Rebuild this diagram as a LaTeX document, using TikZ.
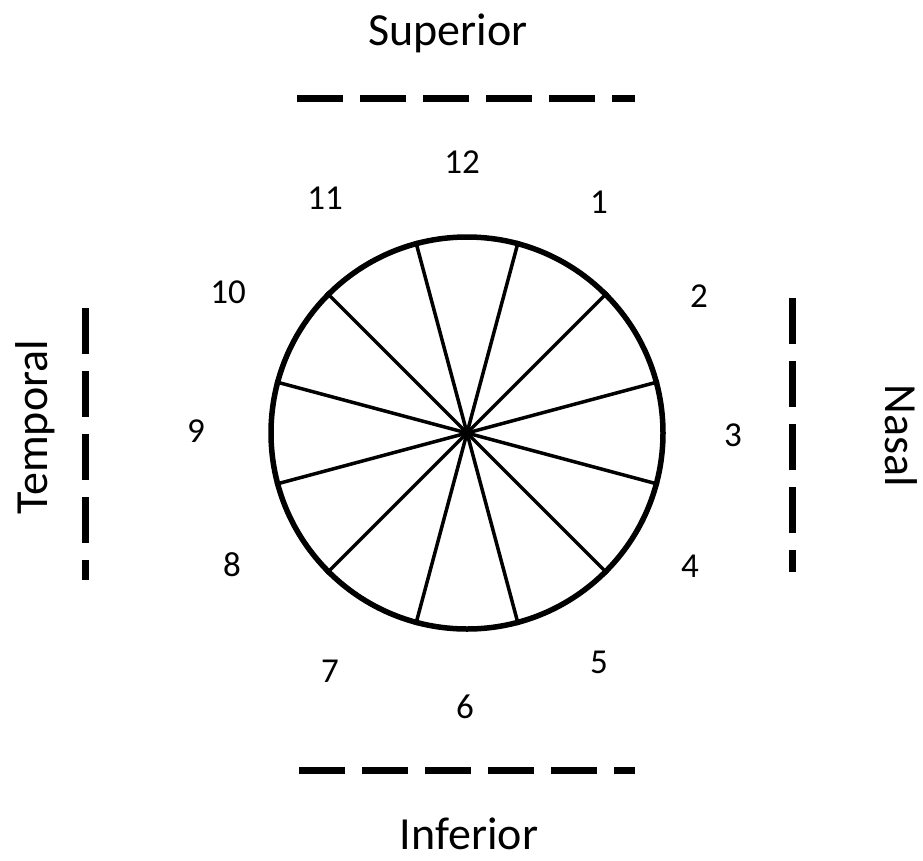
\documentclass[tikz,border=0pt]{standalone}
\usepackage{fontspec}
\setmainfont{Carlito}

\tikzset{
  hour/.style={inner sep=0pt, font=\fontsize{35}{40}\selectfont},
  side/.style={inner sep=0pt, font=\fontsize{46}{52}\selectfont},
  spoke/.style={line width=3.5pt},
  bound/.style={line width=7pt, dash pattern=on 46pt off 17pt}
}

\begin{document}
\begin{tikzpicture}[x=1pt, y=-1pt]
\useasboundingbox (0,0) rectangle (923,860);
% clock face
\node[draw, circle, line width=5.5pt, minimum size=392pt, inner sep=0pt] (eye) at (467,433) {};
% twelve spokes
\draw[spoke] (eye.center) -- (eye.15);
\draw[spoke] (eye.center) -- (eye.45);
\draw[spoke] (eye.center) -- (eye.75);
\draw[spoke] (eye.center) -- (eye.105);
\draw[spoke] (eye.center) -- (eye.135);
\draw[spoke] (eye.center) -- (eye.165);
\draw[spoke] (eye.center) -- (eye.195);
\draw[spoke] (eye.center) -- (eye.225);
\draw[spoke] (eye.center) -- (eye.255);
\draw[spoke] (eye.center) -- (eye.285);
\draw[spoke] (eye.center) -- (eye.315);
\draw[spoke] (eye.center) -- (eye.345);
% clock hours
\node[hour] (h12) at (462,162) {12};
\node[hour] (h1) at (599,202) {1};
\node[hour] (h2) at (699,296) {2};
\node[hour] (h3) at (733,435) {3};
\node[hour] (h4) at (690,566) {4};
\node[hour] (h5) at (599,662) {5};
\node[hour] (h6) at (465,707) {6};
\node[hour] (h7) at (330,671) {7};
\node[hour] (h8) at (232,565) {8};
\node[hour] (h9) at (196,431) {9};
\node[hour] (h10) at (228,292) {10};
\node[hour] (h11) at (325,198) {11};
% dashed boundaries
\coordinate (supL) at (297,98);
\coordinate (supR) at (635,98);
\coordinate (infL) at (299,770);
\coordinate (infR) at (635,770);
\coordinate (temT) at (85,308);
\coordinate (temB) at (85,580);
\coordinate (nasT) at (792,298);
\coordinate (nasB) at (792,572);
\draw[bound] (supL) -- (supR);
\draw[bound] (infL) -- (infR);
\draw[bound] (temT) -- (temB);
\draw[bound] (nasT) -- (nasB);
% sides
\node[side] (sup) at (448,33) {Superior};
\node[side] (inf) at (469,834) {Inferior};
\node[side, rotate=90] (tem) at (35,427) {Temporal};
\node[side, rotate=-90] (nas) at (901,436) {Nasal};
\end{tikzpicture}
\end{document}
